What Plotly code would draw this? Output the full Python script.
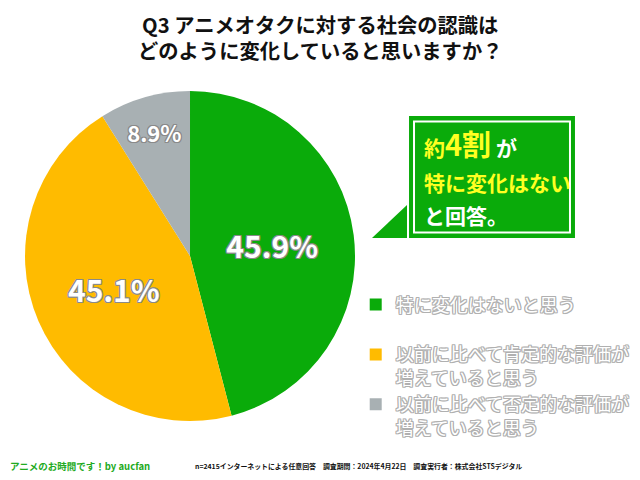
import plotly.graph_objects as go

# data
labels = ["特に変化はないと思う",
          "以前に比べて肯定的な評価が<br>増えていると思う",
          "以前に比べて否定的な評価が<br>増えていると思う"]
values = [45.9, 45.1, 8.9]
colors = ["#0aab0a", "#ffbb00", "#a8b0b3"]

title = "Q3 アニメオタクに対する社会の認識は<br>どのように変化していると思いますか？"
callout_lines = [
    "<span style='color:#ffff22'>約<span style='font-size:29px'>4割</span></span>"
    "<span style='color:white'> が</span>",
    "<span style='color:#ffff22'>特に変化はない</span>",
    "<span style='color:white'>と回答。</span>",
]
footer_left = "アニメのお時間です！by aucfan"
footer_right = "n=2415インターネットによる任意回答　調査期間：2024年4月22日　調査実行者：株式会社STSデジタル"

JP = "Noto Sans CJK JP"
GREEN = "#0aab0a"


def outline_shadow(c):
    offs = [(1, 1), (-1, -1), (1, -1), (-1, 1), (0, 1), (0, -1), (1, 0), (-1, 0)]
    return ", ".join(f"{x}px {y}px 0 {c}" for x, y in offs)


# pad the first legend entry so the spacing matches
legend_names = [labels[0] + "<br> "] + labels[1:]

fig = go.Figure()
fig.add_trace(go.Pie(
    labels=legend_names, values=values, sort=False, direction="clockwise",
    rotation=0, marker=dict(colors=colors, line=dict(width=0)),
    texttemplate="%{value}%",
    textposition="inside", insidetextorientation="horizontal",
    textfont=dict(family=JP, size=[30, 30, 22], color="white",
                  weight="bold", shadow=outline_shadow("#8a8a8a")),
    domain=dict(x=[0.0266, 0.5422], y=[0.1396, 0.8271]),
    hoverinfo="label+value",
))

fig.update_layout(
    width=640, height=480,
    paper_bgcolor="white", plot_bgcolor="white",
    margin=dict(l=0, r=0, t=0, b=0),
    showlegend=True,
    legend=dict(x=0.5433, y=0.42, xanchor="left", yanchor="top",
                valign="top", traceorder="normal",
                font=dict(family=JP, size=18, color="white",
                          shadow=outline_shadow("#b0b0b0")),
                itemclick=False),
)

# title
fig.add_annotation(xref="paper", yref="paper", x=0.4875, y=0.94,
                   xanchor="center", yanchor="middle", showarrow=False,
                   text=title,
                   font=dict(family=JP, size=20.3, color="#111111", weight="bold"))

# callout box
fig.add_shape(type="path", xref="paper", yref="paper",
              path="M 0.5688 0.5208 L 0.6234 0.5896 L 0.6234 0.5208 Z",
              fillcolor=GREEN, line=dict(width=0))
fig.add_shape(type="rect", xref="paper", yref="paper",
              x0=0.6266, x1=0.8859, y0=0.5208, y1=0.775,
              fillcolor=GREEN, line=dict(width=0))
fig.add_shape(type="rect", xref="paper", yref="paper",
              x0=0.6344, x1=0.8781, y0=0.5323, y1=0.7635,
              fillcolor="rgba(0,0,0,0)", line=dict(width=2, color="white"))

for line, yc in zip(callout_lines, [0.71875, 0.6375, 0.56875]):
    fig.add_annotation(xref="paper", yref="paper", x=0.6469, y=yc,
                       xanchor="left", yanchor="middle", showarrow=False,
                       text=line,
                       font=dict(family=JP, size=21, weight="bold"))

# footer
fig.add_annotation(xref="paper", yref="paper", x=0.0, y=0.0458,
                   xanchor="left", yanchor="middle", showarrow=False,
                   text=footer_left,
                   font=dict(family=JP, size=9.5, color="#22aa22", weight="bold"))
fig.add_annotation(xref="paper", yref="paper", x=0.289, y=0.0458,
                   xanchor="left", yanchor="middle", showarrow=False,
                   text=footer_right,
                   font=dict(family=JP, size=6.9, color="#111111", weight="bold"))

fig.write_html("out.html")
